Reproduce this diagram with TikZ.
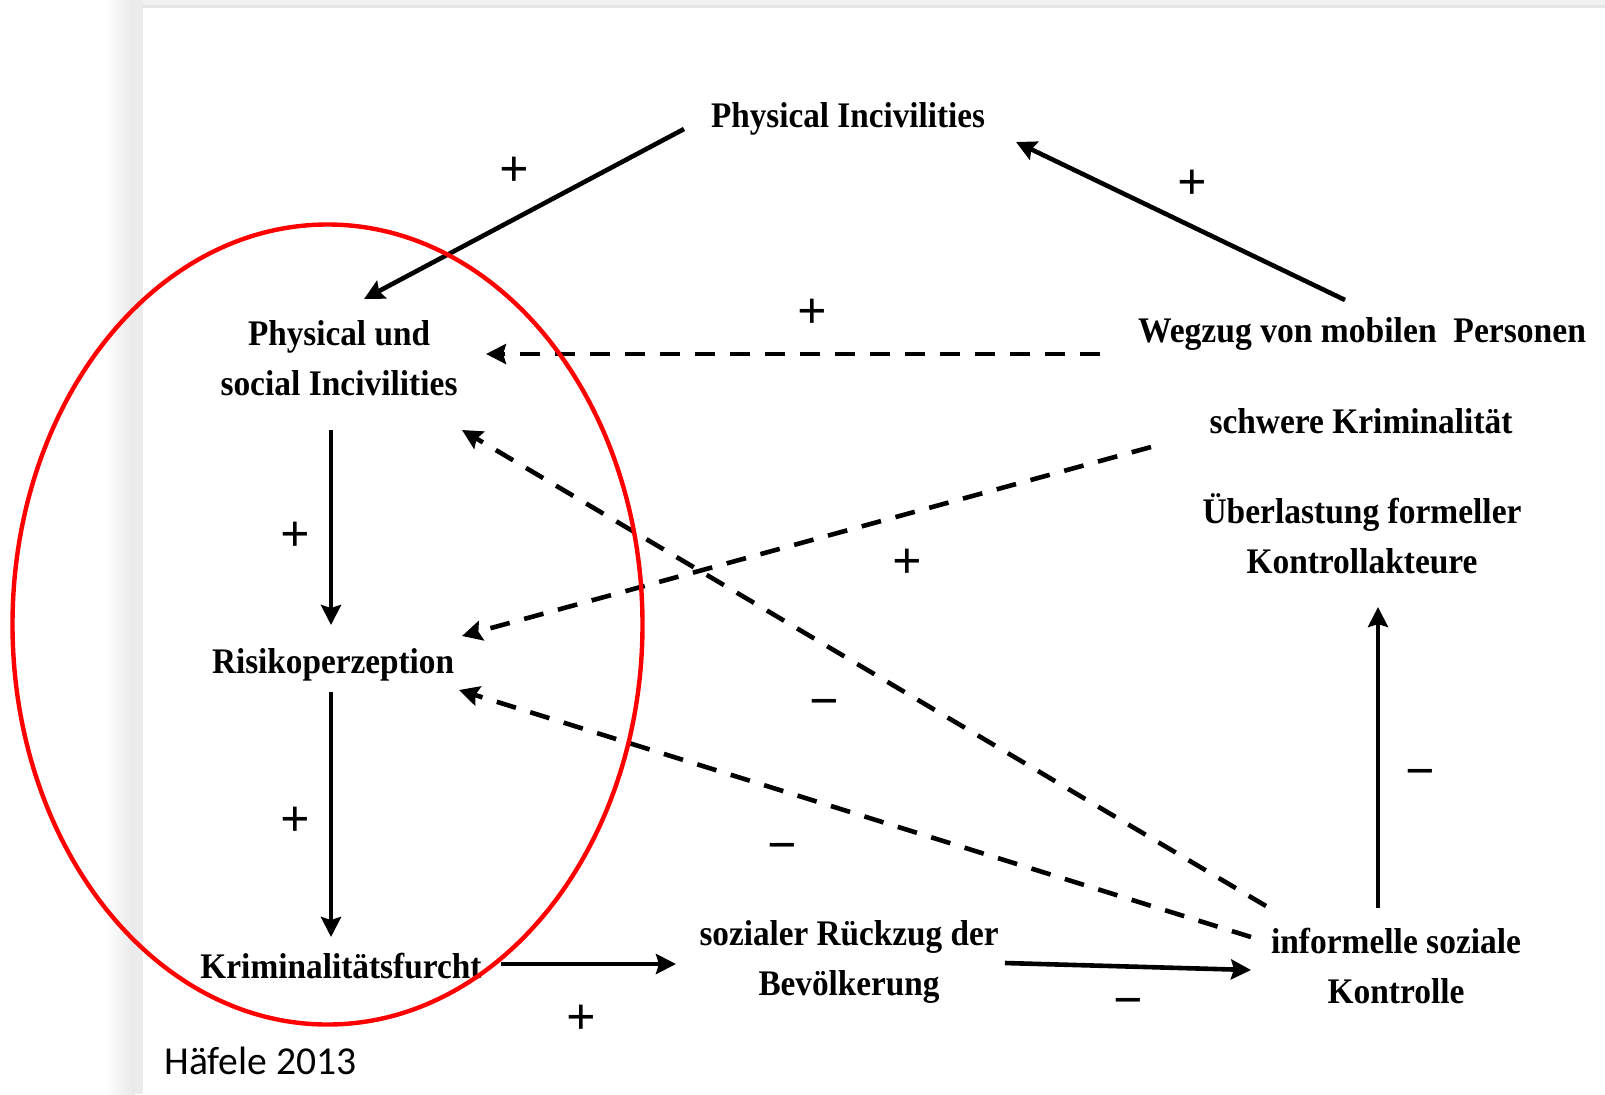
\documentclass[tikz,border=0pt]{standalone}
\usepackage{fontspec}
\setmainfont{Liberation Serif}
\newfontfamily\calfont{Carlito}
\usepackage{graphicx}
\usetikzlibrary{arrows.meta}
\newcommand\fw[2]{\resizebox{#1pt}{\height}{#2}}
\begin{document}
\begin{tikzpicture}[x=0.5pt,y=-0.5pt,
  lbl/.style={font=\fontsize{18}{25}\selectfont\bfseries, inner sep=0pt, anchor=base},
  sign/.style={font=\fontsize{26}{30}\selectfont\bfseries, inner sep=0pt, anchor=base},
  arr/.style={line width=2.3pt, -{Stealth[length=10pt,width=10pt,inset=1.5pt]}},
  darr/.style={arr, dash pattern=on 10pt off 7.5pt},
]
\useasboundingbox (0,0) rectangle (1605,1094);
% page shadow
\shade[left color=white, right color=black!9] (105,0) rectangle (135,1094);
\fill[black!8] (135,0) rectangle (143,1094);
\fill[black!5] (143,0) rectangle (1605,5);
\fill[black!10] (143,5) rectangle (1605,8);

% nodes
\node[lbl] (pi) at (848,127) {\fw{137}{Physical Incivilities}};
\node[lbl] (psi) at (339,345) {\begin{tabular}[t]{@{}c@{}}\fw{91}{Physical und}\\\fw{118.5}{social Incivilities}\end{tabular}};
\node[lbl] (weg) at (1362,342) {\fw{224}{Wegzug von mobilen\ \ Personen}};
\node[lbl] (swk) at (1361,433) {\fw{151.5}{schwere Kriminalität}};
\node[lbl] (ueb) at (1362,523) {\begin{tabular}[t]{@{}c@{}}\fw{159.5}{Überlastung formeller}\\\fw{115.5}{Kontrollakteure}\end{tabular}};
\node[lbl] (risk) at (333,673) {\fw{121}{Risikoperzeption}};
\node[lbl] (krim) at (341,978) {\fw{140.5}{Kriminalitätsfurcht}};
\node[lbl] (soz) at (849,945) {\begin{tabular}[t]{@{}c@{}}\fw{149.5}{sozialer Rückzug der}\\\fw{90.5}{Bevölkerung}\end{tabular}};
\node[lbl] (inf) at (1396,953) {\begin{tabular}[t]{@{}c@{}}\fw{125}{informelle soziale}\\\fw{68.5}{Kontrolle}\end{tabular}};
\node[anchor=base west, inner sep=0pt, font=\calfont\fontsize{19.8}{23}\selectfont] (haf) at (164,1074) {Häfele 2013};

% connector end points
\coordinate (piL) at (684,129);
\coordinate (psiN) at (364,299);
\coordinate (wegN) at (1345,300);
\coordinate (piR) at (1016,142);
\coordinate (wegW) at (1100,354);
\coordinate (psiE) at (486,354);
\coordinate (swkW) at (1151,447);
\coordinate (riskNE) at (462,636);
\coordinate (infNW) at (1266,906);
\coordinate (psiSE) at (462,430);
\coordinate (infW) at (1251,937);
\coordinate (riskE) at (459,690);
\coordinate (psiS) at (331,430);
\coordinate (riskN) at (331,625);
\coordinate (riskS) at (331,692);
\coordinate (krimN) at (331,937);
\coordinate (krimE) at (501,964);
\coordinate (sozW) at (676,964);
\coordinate (sozE) at (1005,963);
\coordinate (infW2) at (1251,970);
\coordinate (infN) at (1378,908);
\coordinate (uebS) at (1378,607);

% connectors
\draw[arr] (piL) -- (psiN);
\draw[arr] (wegN) -- (piR);
\draw[darr] (wegW) -- (psiE);
\draw[darr] (swkW) -- (riskNE);
\draw[darr] (infNW) -- (psiSE);
\draw[darr] (infW) -- (riskE);
\draw[arr] (psiS) -- (riskN);
\draw[arr] (riskS) -- (krimN);
\draw[arr] (krimE) -- (sozW);
\draw[arr] (sozE) -- (infW2);
\draw[arr] (infN) -- (uebS);

% signs (baseline = centre + 19)
\node[sign] (s1) at (514,186) {+};
\node[sign] (s2) at (1192,199) {+};
\node[sign] (s3) at (812,328) {+};
\node[sign] (s4) at (295,551) {+};
\node[sign] (s5) at (907,578) {+};
\node[sign] (s6) at (295,836) {+};
\node[sign] (s7) at (581,1034) {+};
\node[sign] (m1) at (824,718) {−};
\node[sign] (m2) at (782,862) {−};
\node[sign] (m3) at (1128,1017) {−};
\node[sign] (m4) at (1420,788) {−};

% red ellipse
\draw[red, line width=2.2pt] (327.5,624.5) ellipse [x radius=315, y radius=400];
\end{tikzpicture}
\end{document}
